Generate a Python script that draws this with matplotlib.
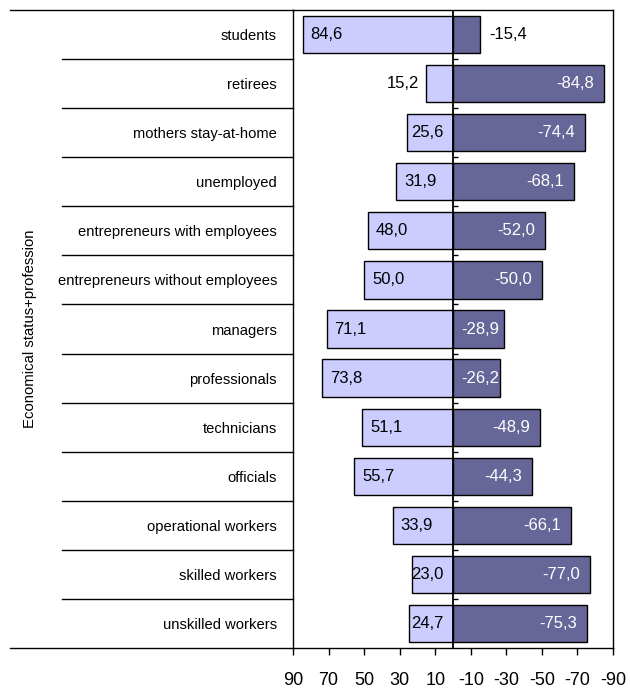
import matplotlib
matplotlib.use("Agg")
import matplotlib.pyplot as plt
import numpy as np

plt.rcParams["font.family"] = ["Liberation Sans", "DejaVu Sans"]

categories = [
    "students", "retirees", "mothers stay-at-home", "unemployed",
    "entrepreneurs with employees", "entrepreneurs without employees",
    "managers", "professionals", "technicians", "officials",
    "operational workers", "skilled workers", "unskilled workers",
]
share_yes = [84.6, 15.2, 25.6, 31.9, 48.0, 50.0, 71.1, 73.8, 51.1, 55.7, 33.9, 23.0, 24.7]
share_no = [-15.4, -84.8, -74.4, -68.1, -52.0, -50.0, -28.9, -26.2, -48.9, -44.3, -66.1, -77.0, -75.3]
x_ticks = [90, 70, 50, 30, 10, -10, -30, -50, -70, -90]
y_title = "Economical status+profession"

LIGHT = "#CCCCFF"
DARK = "#666699"
PX = 72.0 / 100.0  # points per pixel at dpi 100

fig = plt.figure(figsize=(6.3, 6.9), dpi=100)
ax = fig.add_axes([293 / 630, 1 - 648 / 690, 320 / 630, 638 / 690])

y = np.arange(len(categories))
ax.barh(y, share_yes, height=0.76, color=LIGHT, edgecolor="black", linewidth=1.0, zorder=2)
ax.barh(y, share_no, height=0.76, color=DARK, edgecolor="black", linewidth=1.0, zorder=2)

ax.set_xlim(90, -90)
ax.set_ylim(len(categories) - 0.5, -0.5)

# centre axis with small ticks at the row boundaries
ax.axvline(0, color="black", linewidth=1.3, zorder=3)
bounds = np.arange(len(categories) - 1) + 0.5
ax.hlines(bounds, 0, -3, color="black", linewidth=1.0, zorder=3)


def fmt(v):
    return f"{v:.1f}".replace(".", ",")


# offsets are in screen pixels (x axis runs from 90 on the left to -90 on the right)
def put(text, xy, dx, ha, color):
    ax.annotate(text, xy, xytext=(dx * PX, 0), textcoords="offset points",
                ha=ha, va="center", fontsize=12, color=color, zorder=4)


for yi, v in zip(y, share_yes):
    if v >= 28:
        put(fmt(v), (v, yi), 8, "left", "black")
    elif v >= 20:
        put(fmt(v), (0, yi), -10, "right", "black")
    else:
        put(fmt(v), (v, yi), -7, "right", "black")

for yi, v in zip(y, share_no):
    if v <= -40:
        put(fmt(v), (v, yi), -10, "right", "white")
    elif v <= -20:
        put(fmt(v), (0, yi), 8, "left", "white")
    else:
        put(fmt(v), (v, yi), 9, "left", "black")

# axes styling
for s in ax.spines.values():
    s.set_linewidth(1.0)
    s.set_color("black")

ax.set_xticks(x_ticks)
ax.set_xticklabels([str(t) for t in x_ticks], fontsize=13)
ax.tick_params(axis="x", direction="out", length=5, width=1.0, pad=12.5)

ax.set_yticks(y)
ax.set_yticklabels(categories, fontsize=10.6)
ax.tick_params(axis="y", length=0, pad=11.5)

ax.set_ylabel(y_title, fontsize=10.7)
ax.yaxis.set_label_coords(-0.80, 0.5)

# category table lines on the left
yt = ax.get_yaxis_transform()
for b in bounds:
    ax.plot([-0.722, 0], [b, b], transform=yt, color="black", linewidth=1.0, clip_on=False)
for b in (-0.5, len(categories) - 0.5):
    ax.plot([-0.884, 0], [b, b], transform=yt, color="black", linewidth=1.0, clip_on=False)

fig.savefig("out.png", dpi=100, facecolor="white")
